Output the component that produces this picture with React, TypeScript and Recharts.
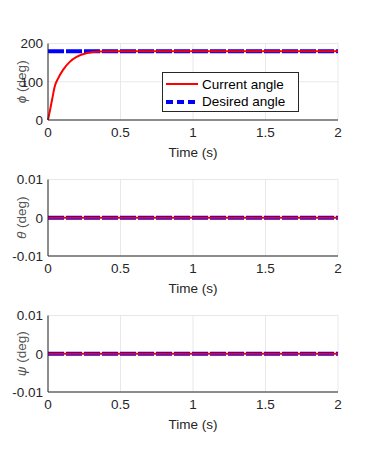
import React from "react";
import { CartesianGrid, Line, LineChart, XAxis, YAxis } from "recharts";

// time samples (s)
const timeS = [0, 0.012, 0.03, 0.046, 0.07, 0.104, 0.15, 0.197, 0.27, 0.36, 0.5, 1, 1.5, 2];
const phiCurrent = [0, 22, 57, 87, 109, 131, 152, 165, 175, 179, 180, 180, 180, 180];
const phiDesired = [180, 180, 180, 180, 180, 180, 180, 180, 180, 180, 180, 180, 180, 180];
const thetaCurrent = [0, 0, 0, 0, 0, 0, 0, 0, 0, 0, 0, 0, 0, 0];
const thetaDesired = [0, 0, 0, 0, 0, 0, 0, 0, 0, 0, 0, 0, 0, 0];
const psiCurrent = [0, 0, 0, 0, 0, 0, 0, 0, 0, 0, 0, 0, 0, 0];
const psiDesired = [0, 0, 0, 0, 0, 0, 0, 0, 0, 0, 0, 0, 0, 0];

const timeTicks = [0, 0.5, 1, 1.5, 2];
const phiTicks = [0, 100, 200];
const smallTicks = [-0.01, 0, 0.01];

const FONT = "'Liberation Sans', Arial, Helvetica, sans-serif";
const AXIS = "#262626";
const W = 374;
const H = 160;

function build(cur: number[], des: number[]) {
  return timeS.map((t, i) => ({ t, current: cur[i], desired: des[i] }));
}

function YLabel(props: any) {
  const { viewBox, sym } = props;
  const cy = viewBox.y + viewBox.height / 2;
  const cx = 21;
  return (
    <text
      x={cx}
      y={cy}
      transform={`rotate(-90 ${cx} ${cy})`}
      textAnchor="middle"
      dominantBaseline="central"
      fill="#555"
      fontSize={13.5}
      fontFamily={FONT}
    >
      <tspan fontStyle="italic">{sym}</tspan> (deg)
    </text>
  );
}

type PanelProps = {
  top: number;
  data: { t: number; current: number; desired: number }[];
  domain: [number, number];
  ticks: number[];
  sym: string;
};

function Panel({ top, data, domain, ticks, sym }: PanelProps) {
  const tickStyle = { fill: AXIS, fontSize: 13.5, fontFamily: FONT };
  return (
    <div style={{ position: "absolute", left: 0, top }}>
      <LineChart width={W} height={H} data={data} margin={{ top: 43.5, right: 36, bottom: 0, left: 0 }}>
        <CartesianGrid stroke="#e8e8e8" vertical horizontal />
        <XAxis
          dataKey="t"
          type="number"
          domain={[0, 2]}
          ticks={timeTicks}
          interval={0}
          height={40}
          stroke={AXIS}
          tickSize={0}
          tickMargin={7}
          tick={tickStyle}
          label={{ value: "Time (s)", position: "insideBottom", offset: 3, fill: AXIS, fontSize: 13.5, fontFamily: FONT }}
        />
        <YAxis
          type="number"
          domain={domain}
          ticks={ticks}
          interval={0}
          width={48}
          stroke={AXIS}
          tickSize={0}
          tickMargin={5}
          tick={tickStyle}
          allowDataOverflow
          label={<YLabel sym={sym} />}
        />
        <Line
          dataKey="desired"
          stroke="#0000ff"
          strokeWidth={4}
          strokeDasharray="16 2"
          dot={false}
          isAnimationActive={false}
        />
        <Line
          dataKey="current"
          type="monotone"
          stroke="#ff0000"
          strokeWidth={2}
          dot={false}
          isAnimationActive={false}
        />
      </LineChart>
    </div>
  );
}

function LegendBox() {
  const row = (color: string, dash: string | undefined, width: number, text: string, y: number) => (
    <div style={{ position: "absolute", left: 0, top: y - 9, height: 18, display: "flex", alignItems: "center" }}>
      <svg width={38} height={18}>
        <line x1={3} x2={35} y1={9} y2={9} stroke={color} strokeWidth={width} strokeDasharray={dash} />
      </svg>
      <span style={{ fontFamily: FONT, fontSize: 13.5, color: "#000", marginLeft: 1 }}>{text}</span>
    </div>
  );
  return (
    <div
      style={{
        position: "absolute",
        left: 162,
        top: 72,
        width: 135,
        height: 38,
        border: `1px solid ${AXIS}`,
        background: "#fff",
      }}
    >
      {row("#ff0000", undefined, 2, "Current angle", 11)}
      {row("#0000ff", "7 4", 4, "Desired angle", 28.5)}
    </div>
  );
}

export default function App() {
  return (
    <div style={{ position: "absolute", left: 0, top: 0, width: W, height: 455, background: "#fff", overflow: "hidden" }}>
      <Panel top={0} data={build(phiCurrent, phiDesired)} domain={[0, 200]} ticks={phiTicks} sym="ϕ" />
      <Panel top={136} data={build(thetaCurrent, thetaDesired)} domain={[-0.01, 0.01]} ticks={smallTicks} sym="θ" />
      <Panel top={272} data={build(psiCurrent, psiDesired)} domain={[-0.01, 0.01]} ticks={smallTicks} sym="ψ" />
      <LegendBox />
    </div>
  );
}
